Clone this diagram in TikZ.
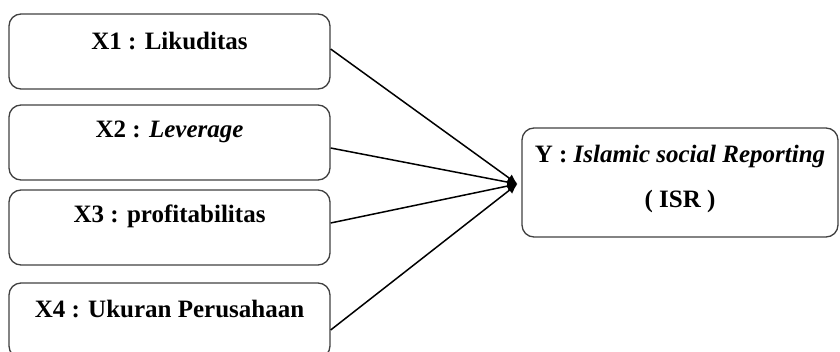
\documentclass[tikz,border=0pt]{standalone}
\usepackage{fontspec}
\setmainfont{Liberation Serif}
\usetikzlibrary{arrows.meta}
\begin{document}
\begin{tikzpicture}[x=1pt,y=-1pt,
  varbox/.style={draw=black!75, line width=1.3pt, rounded corners=12pt, inner sep=0pt,
    minimum width=321pt, minimum height=75pt, font=\fontsize{25}{29}\selectfont\bfseries},
  link/.style={line width=1.5pt, -{Latex[length=10pt,width=9pt]}}]
\useasboundingbox (0,0) rectangle (840,351);
\node[varbox, text height=35pt, text depth=40pt] (x1) at (169.5,51.5) {X1 : Likuditas};
\node[varbox, text height=32pt, text depth=43pt] (x2) at (169.5,142.5) {X2 : \textit{Leverage}};
\node[varbox, text height=32pt, text depth=43pt] (x3) at (169.5,227.5) {X3 : profitabilitas};
\node[varbox, text height=34pt, text depth=41pt] (x4) at (169.5,320.5) {X4 : Ukuran Perusahaan};
\node[varbox, minimum width=316pt, minimum height=109pt, text height=79pt, text depth=30pt,
  align=center, font=\fontsize{25}{45}\selectfont\bfseries] (y) at (680,182.5)
  {Y : \textit{Islamic social Reporting}\\( ISR )};
\coordinate (tip) at ([xshift=-4pt,yshift=-1.5pt]y.west);
\draw[link] ([yshift=2.5pt]x1.east) -- (tip);
\draw[link] ([yshift=-5.5pt]x2.east) -- (tip);
\draw[link] ([yshift=4.5pt]x3.east) -- (tip);
\draw[link] ([yshift=-9.5pt]x4.east) -- (tip);
\end{tikzpicture}
\end{document}
